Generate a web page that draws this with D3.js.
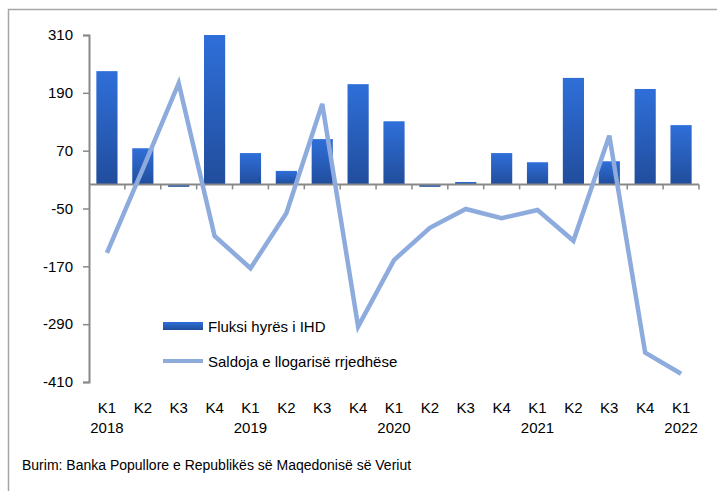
<!DOCTYPE html>
<html><head><meta charset="utf-8">
<script src="https://cdn.jsdelivr.net/npm/d3@7"></script>
<style>body{margin:0;background:#fff}svg{display:block}text{font-family:"Liberation Sans",Arial,sans-serif;fill:#000}</style>
</head><body>
<script>
const quarters = ["K1","K2","K3","K4","K1","K2","K3","K4","K1","K2","K3","K4","K1","K2","K3","K4","K1"];
const years = ["2018","","","","2019","","","","2020","","","","2021","","","","2022"];
const fdi = [235, 75, -5, 310, 65, 28, 94, 208, 131, -5, 5, 65, 46, 221, 48, 198, 123];
const currentAccount = [-142, 32, 210, -107, -174, -60, 167, -295, -157, -90, -51, -70, -53, -117, 101, -349, -393];
const yTicks = [310, 190, 70, -50, -170, -290, -410];
const seriesNames = ["Fluksi hyrës i IHD", "Saldoja e llogarisë rrjedhëse"];
const source = "Burim: Banka Popullore e Republikës së Maqedonisë së Veriut";

const W = 717, H = 491;
const svg = d3.select("body").append("svg").attr("width", W).attr("height", H);

const defs = svg.append("defs");
const grad = defs.append("linearGradient").attr("id","barGrad").attr("x1",0).attr("y1",0).attr("x2",0).attr("y2",1);
grad.append("stop").attr("offset","0%").attr("stop-color","#2f6fd9");
grad.append("stop").attr("offset","100%").attr("stop-color","#214d9c");

// outer border
svg.append("rect").attr("x",8.5).attr("y",9.5).attr("width",W+10).attr("height",H+10)
  .attr("fill","none").attr("stroke","#a6a6a6").attr("stroke-width",1.5);

const idx = d3.range(quarters.length);
const x = d3.scaleBand().domain(idx).range([89, 699]).paddingInner(0.41).paddingOuter(0.205);
const xb = d3.scaleBand().domain(idx).range([89, 699]);
const y = d3.scaleLinear().domain([-410, 310]).range([382, 35]);

// bars
svg.append("g").selectAll("rect").data(fdi).join("rect")
  .attr("x",(d,i)=>x(i)).attr("width",x.bandwidth())
  .attr("y",d=>y(Math.max(0,d))).attr("height",d=>Math.max(1.5,Math.abs(y(d)-y(0))))
  .attr("fill","url(#barGrad)");

// y axis
const yAxis = d3.axisLeft(y).tickValues(yTicks).tickSize(6).tickPadding(10).tickFormat(d=>String(d));
const gy = svg.append("g").attr("transform","translate(89,0)").call(yAxis);
gy.select(".domain").attr("stroke","#888").attr("stroke-width",2);
gy.selectAll(".tick line").attr("stroke","#888").attr("stroke-width",1.5);
gy.selectAll(".tick text").style("font-size","15px").attr("fill","#000");

// x axis at zero
const gx = svg.append("g").attr("transform",`translate(0,${y(0)})`);
gx.append("line").attr("x1",89).attr("x2",699).attr("y1",0).attr("y2",0).attr("stroke","#888").attr("stroke-width",2);
gx.selectAll("line.t").data(d3.range(1, quarters.length+1)).join("line").attr("class","t")
  .attr("x1",k=>xb.step()*k+89).attr("x2",k=>xb.step()*k+89).attr("y1",0).attr("y2",5)
  .attr("stroke","#888").attr("stroke-width",1.5);

// line
const line = d3.line().x((d,i)=>xb(i)+xb.bandwidth()/2).y(d=>y(d));
svg.append("path").datum(currentAccount).attr("d",line).attr("fill","none")
  .attr("stroke","#8eabde").attr("stroke-width",4.5).attr("stroke-linejoin","miter");

// x labels
const lab = svg.append("g");
lab.selectAll("text.q").data(quarters).join("text").attr("class","q")
  .attr("x",(d,i)=>xb(i)+xb.bandwidth()/2).attr("y",413).attr("text-anchor","middle")
  .style("font-size","15px").text(d=>d);
lab.selectAll("text.yr").data(years).join("text").attr("class","yr")
  .attr("x",(d,i)=>xb(i)+xb.bandwidth()/2).attr("y",433).attr("text-anchor","middle")
  .style("font-size","15px").text(d=>d);

// legend
const lg = svg.append("g");
lg.append("rect").attr("x",163).attr("y",322).attr("width",40).attr("height",8).attr("fill","url(#barGrad)");
lg.append("text").attr("x",208).attr("y",332).style("font-size","15px").text(seriesNames[0]);
lg.append("line").attr("x1",163).attr("x2",203).attr("y1",361).attr("y2",361).attr("stroke","#8eabde").attr("stroke-width",4);
lg.append("text").attr("x",208).attr("y",367).style("font-size","15px").text(seriesNames[1]);

svg.append("text").attr("x",22).attr("y",470).style("font-size","14px").text(source);
</script>
</body></html>
